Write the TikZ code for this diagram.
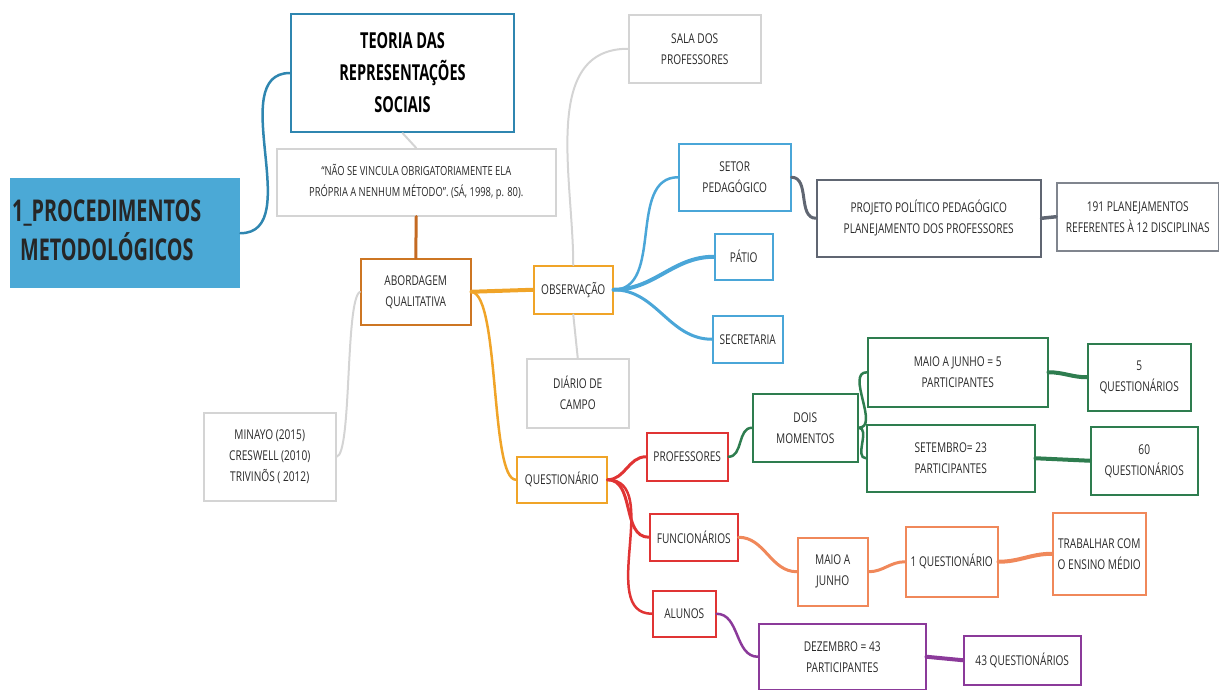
\documentclass[tikz,border=0pt]{standalone}
\usepackage{fontspec}
\setmainfont{Open Sans}[FakeStretch=0.75]
\newfontfamily\titlefont{Open Sans}[FakeStretch=0.66]
\definecolor{mainblue}{HTML}{4BA9D6}
\definecolor{teorblue}{HTML}{2F86B0}
\definecolor{lgray}{HTML}{D4D4D4}
\definecolor{dgray}{HTML}{606672}
\definecolor{brorange}{HTML}{C46A22}
\definecolor{orng}{HTML}{F0A428}
\definecolor{lblue}{HTML}{4AA6D8}
\definecolor{rred}{HTML}{E03434}
\definecolor{ggreen}{HTML}{2E7D4F}
\definecolor{salmon}{HTML}{F0885A}
\definecolor{ppurple}{HTML}{8B3A9A}
\definecolor{txt}{HTML}{2A2A2A}
\begin{document}
\begin{tikzpicture}[x=1pt,y=-1pt,
  bx/.style={draw, line width=1.5pt, inner sep=0pt, align=center, anchor=north west,
    font=\fontsize{13.5}{21}\selectfont, text=txt, fill=white},
  cn/.style={line width=#1, line cap=round},
  cn/.default=2.5pt]
\useasboundingbox (0,0) rectangle (1219,689);

% nodes
\node[anchor=north west, fill=mainblue, inner sep=0pt, minimum width=230pt, minimum height=110pt,
  text width=230pt, align=left, font=\titlefont\bfseries\fontsize{30}{38}\selectfont, text=black!85]
  (main) at (10,178) {\hspace*{2pt}\begin{tabular}{@{}c@{}}1\_PROCEDIMENTOS\\METODOLÓGICOS\end{tabular}};
\node[bx, draw=teorblue, line width=2pt, minimum width=223pt, minimum height=118pt,
  font=\titlefont\bfseries\fontsize{22}{32}\selectfont, text=black] (teoria) at (290,13)
  {TEORIA DAS\\REPRESENTAÇÕES\\SOCIAIS};
\node[bx, draw=lgray, minimum width=279pt, minimum height=67pt, font=\fontsize{12.5}{21}\selectfont] (quote) at (276,148)
  {“NÃO SE VINCULA OBRIGATORIAMENTE ELA\\PRÓPRIA A NENHUM MÉTODO”. (SÁ, 1998, p. 80).};
\node[bx, draw=brorange!80!orng, minimum width=110pt, minimum height=66pt] (abord) at (360,258) {ABORDAGEM\\QUALITATIVA};
\node[bx, draw=lgray, minimum width=132pt, minimum height=88pt] (minayo) at (203,412) {MINAYO (2015)\\CRESWELL (2010)\\TRIVINÕS ( 2012)};
\node[bx, draw=orng, minimum width=79pt, minimum height=48pt] (obs) at (533,265) {OBSERVAÇÃO};
\node[bx, draw=orng, minimum width=90pt, minimum height=46pt] (quest) at (516,456) {QUESTIONÁRIO};
\node[bx, draw=lgray, minimum width=132pt, minimum height=68pt] (sala) at (628,14) {SALA DOS\\PROFESSORES};
\node[bx, draw=lgray, minimum width=102pt, minimum height=69pt] (diario) at (526,358) {DIÁRIO DE\\CAMPO};
\node[bx, draw=lblue, minimum width=112pt, minimum height=67pt] (setor) at (678,143) {SETOR\\PEDAGÓGICO};
\node[bx, draw=lblue, minimum width=58pt, minimum height=46pt] (patio) at (714,233) {PÁTIO};
\node[bx, draw=lblue, minimum width=70pt, minimum height=47pt] (secret) at (712,315) {SECRETARIA};
\node[bx, draw=dgray, minimum width=224pt, minimum height=77pt] (projeto) at (816,179) {PROJETO POLÍTICO PEDAGÓGICO\\PLANEJAMENTO DOS PROFESSORES};
\node[bx, draw=dgray!80, minimum width=162pt, minimum height=68pt] (plan) at (1056,182) {191 PLANEJAMENTOS\\REFERENTES À 12 DISCIPLINAS};
\node[bx, draw=rred, minimum width=81pt, minimum height=48pt] (prof) at (646,432) {PROFESSORES};
\node[bx, draw=rred, minimum width=88pt, minimum height=47pt] (func) at (649,513) {FUNCIONÁRIOS};
\node[bx, draw=rred, minimum width=63pt, minimum height=46pt] (alunos) at (652,590) {ALUNOS};
\node[bx, draw=ggreen, minimum width=105pt, minimum height=68pt] (dois) at (752,393) {DOIS\\MOMENTOS};
\node[bx, draw=ggreen, minimum width=180pt, minimum height=69pt] (maio5) at (867,337) {MAIO A JUNHO = 5\\PARTICIPANTES};
\node[bx, draw=ggreen, minimum width=168pt, minimum height=67pt] (set23) at (866,424) {SETEMBRO= 23\\PARTICIPANTES};
\node[bx, draw=ggreen, minimum width=103pt, minimum height=67pt] (q5) at (1087,343) {5\\QUESTIONÁRIOS};
\node[bx, draw=ggreen, minimum width=107pt, minimum height=68pt] (q60) at (1090,426) {60\\QUESTIONÁRIOS};
\node[bx, draw=salmon, minimum width=70pt, minimum height=68pt] (maioj) at (797,537) {MAIO A\\JUNHO};
\node[bx, draw=salmon, minimum width=92pt, minimum height=70pt] (q1) at (905,526) {1 QUESTIONÁRIO};
\node[bx, draw=salmon, minimum width=93pt, minimum height=82pt] (trab) at (1052,512) {TRABALHAR COM\\O ENSINO MÉDIO};
\node[bx, draw=ppurple, minimum width=167pt, minimum height=66pt] (dez) at (758,623) {DEZEMBRO = 43\\PARTICIPANTES};
\node[bx, draw=ppurple, minimum width=117pt, minimum height=49pt] (q43) at (963,635) {43 QUESTIONÁRIOS};

% connectors
\draw[cn, teorblue] (main.east) to[out=0,in=180] (teoria.west);
\draw[cn=2pt, lgray] (teoria.south) -- (quote.north);
\draw[cn=3pt, brorange] (quote.south) -- (abord.north);
\draw[cn=2pt, lgray] (minayo.east) .. controls (352,455) and (345,300) .. (abord.west);
\draw[cn=4pt, orng] (abord.east) -- (obs.west);
\draw[cn=2.5pt, orng] (abord.east) .. controls (500,295) and (490,480) .. (quest.west);
\draw[cn=2pt, lgray] (obs.north) to[out=90,in=180] (sala.west);
\draw[cn=2pt, lgray] (obs.south) -- (diario.north);
\draw[cn=2.5pt, lblue] (obs.east) to[out=0,in=180] (setor.west);
\draw[cn=4pt, lblue] (obs.east) to[out=0,in=180] (patio.west);
\draw[cn=3pt, lblue] (obs.east) to[out=0,in=180] (secret.west);
\draw[cn=3pt, dgray] (setor.east) to[out=0,in=180] (projeto.west);
\draw[cn=3.5pt, dgray] (projeto.east) -- (plan.west);
\draw[cn=3pt, rred] (quest.east) to[out=0,in=180] (prof.west);
\draw[cn=3pt, rred] (quest.east) to[out=0,in=180] (func.west);
\draw[cn=2.5pt, rred] (quest.east) to[out=0,in=180] (alunos.west);
\draw[cn=2.5pt, ggreen] (prof.east) to[out=0,in=180] (dois.west);
\draw[cn=2.5pt, ggreen] (dois.east) to[out=0,in=180] (maio5.west);
\draw[cn=2.5pt, ggreen] (dois.east) to[out=0,in=180] (set23.west);
\draw[cn=4pt, ggreen] (maio5.east) to[out=0,in=180] (q5.west);
\draw[cn=4pt, ggreen] (set23.east) -- (q60.west);
\draw[cn=3pt, salmon] (func.east) to[out=0,in=180] (maioj.west);
\draw[cn=3pt, salmon] (maioj.east) to[out=0,in=180] (q1.west);
\draw[cn=4pt, salmon] (q1.east) to[out=0,in=180] (trab.west);
\draw[cn=2.5pt, ppurple] (alunos.east) to[out=0,in=180] (dez.west);
\draw[cn=4pt, ppurple] (dez.east) -- (q43.west);
\end{tikzpicture}
\end{document}
